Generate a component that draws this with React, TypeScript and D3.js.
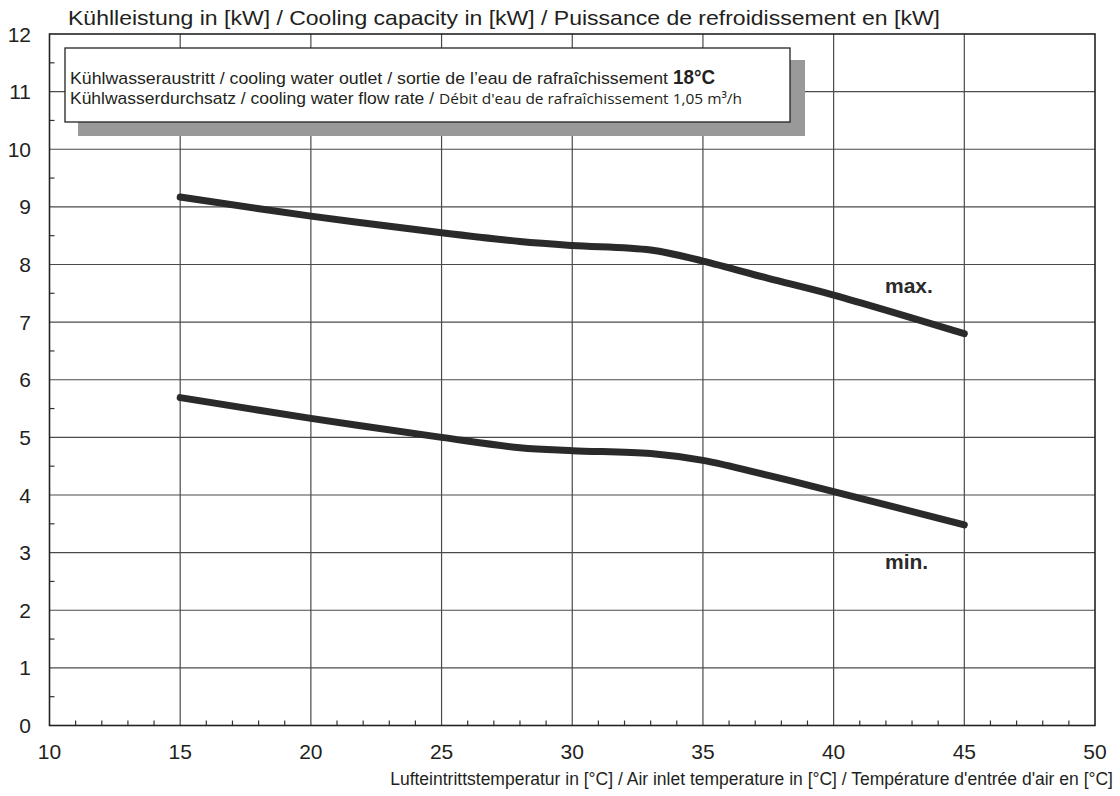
import React from "react";
import * as d3 from "d3";

const temps = [15, 20, 25, 28, 30, 33, 35, 37.5, 40, 45];
const maxCap = [9.17, 8.84, 8.55, 8.4, 8.33, 8.25, 8.06, 7.76, 7.47, 6.8];
const minCap = [5.69, 5.33, 5.0, 4.82, 4.77, 4.72, 4.6, 4.34, 4.06, 3.48];
const xTicks = [10, 15, 20, 25, 30, 35, 40, 45, 50];
const yTicks = [0, 1, 2, 3, 4, 5, 6, 7, 8, 9, 10, 11, 12];
const titleText = "Kühlleistung in [kW] / Cooling capacity in [kW] / Puissance de refroidissement en [kW]";
const xTitle = "Lufteintrittstemperatur in [°C] / Air inlet temperature in [°C] / Température d'entrée d'air en [°C]";
const legendLine1 = "Kühlwasseraustritt / cooling water outlet / sortie de l’eau de rafraîchissement";
const legendTemp = "18°C";
const legendLine2a = "Kühlwasserdurchsatz / cooling water flow rate /";
const legendLine2b = "Débit d'eau de rafraîchissement 1,05 m³/h";

export default function App() {
  const W = 1120, H = 796;
  const left = 49.5, right = 1095, top = 34, bottom = 725.5;
  const x = d3.scaleLinear().domain([10, 50]).range([left, right]);
  const y = d3.scaleLinear().domain([0, 12]).range([bottom, top]);
  const line = d3
    .line<number>()
    .x((_, i) => x(temps[i]))
    .y((d) => y(d))
    .curve(d3.curveCatmullRom.alpha(0.5));
  const xMinor = d3.range(11, 50).filter((v) => v % 5 !== 0);
  const yMinor = d3.range(0.5, 12, 1);
  const font = "Liberation Sans, Arial, sans-serif";
  const ink = "#231f20";
  return (
    <svg width={W} height={H} style={{ position: "absolute", left: 0, top: 0, background: "#fff" }} fontFamily={font}>
      <rect x={0} y={0} width={W} height={H} fill="#fff" />
      {/* grid */}
      {xTicks.slice(1, -1).map((t) => (
        <line key={"gx" + t} x1={x(t)} x2={x(t)} y1={top} y2={bottom} stroke="#4a4a4a" strokeWidth={1.2} />
      ))}
      {yTicks.slice(1, -1).map((t) => (
        <line key={"gy" + t} x1={left} x2={right} y1={y(t)} y2={y(t)} stroke="#4a4a4a" strokeWidth={1.2} />
      ))}
      {xMinor.map((t) => (
        <line key={"mx" + t} x1={x(t)} x2={x(t)} y1={bottom} y2={bottom - 5} stroke="#333" strokeWidth={1.2} />
      ))}
      {yMinor.map((t) => (
        <line key={"my" + t} x1={left} x2={left + 5} y1={y(t)} y2={y(t)} stroke="#333" strokeWidth={1.2} />
      ))}
      <rect x={left} y={top} width={right - left} height={bottom - top} fill="none" stroke="#222" strokeWidth={1.6} />
      {/* legend box */}
      <rect x={78} y={60} width={727} height={76} fill="#999" />
      <rect x={65} y={48} width={725} height={74} fill="#fff" stroke="#222" strokeWidth={1.3} />
      <text x={70} y={84} fontSize={17} fill={ink} textLength={598} lengthAdjust="spacingAndGlyphs">{legendLine1}</text>
      <text x={673} y={84} fontSize={20} fontWeight="bold" fill={ink} textLength={42} lengthAdjust="spacingAndGlyphs">{legendTemp}</text>
      <text x={70} y={104} fontSize={17} fill={ink} textLength={364} lengthAdjust="spacingAndGlyphs">{legendLine2a}</text>
      <text x={439} y={104} fontSize={15} fontFamily="Open Sans, sans-serif" fill={ink} textLength={303} lengthAdjust="spacingAndGlyphs">{legendLine2b}</text>
      {/* curves */}
      <path d={line(maxCap) || ""} fill="none" stroke="#2b2a2a" strokeWidth={7} strokeLinecap="round" strokeLinejoin="round" />
      <path d={line(minCap) || ""} fill="none" stroke="#2b2a2a" strokeWidth={7} strokeLinecap="round" strokeLinejoin="round" />
      <text x={885} y={293} fontSize={21} fontWeight="bold" fill="#2b2a2a">max.</text>
      <text x={885} y={569} fontSize={21} fontWeight="bold" fill="#2b2a2a">min.</text>
      {/* axes labels */}
      {yTicks.map((t) => (
        <text key={"yl" + t} x={31} y={y(t) + 7.5} fontSize={21} textAnchor="end" fill={ink}>{t}</text>
      ))}
      {xTicks.map((t) => (
        <text key={"xl" + t} x={x(t)} y={759} fontSize={21} textAnchor="middle" fill={ink}>{t}</text>
      ))}
      <text x={68} y={25} fontSize={21} fill={ink} textLength={872} lengthAdjust="spacingAndGlyphs">{titleText}</text>
      <text x={1113} y={785} fontSize={17.5} fill={ink} textAnchor="end">{xTitle}</text>
    </svg>
  );
}
